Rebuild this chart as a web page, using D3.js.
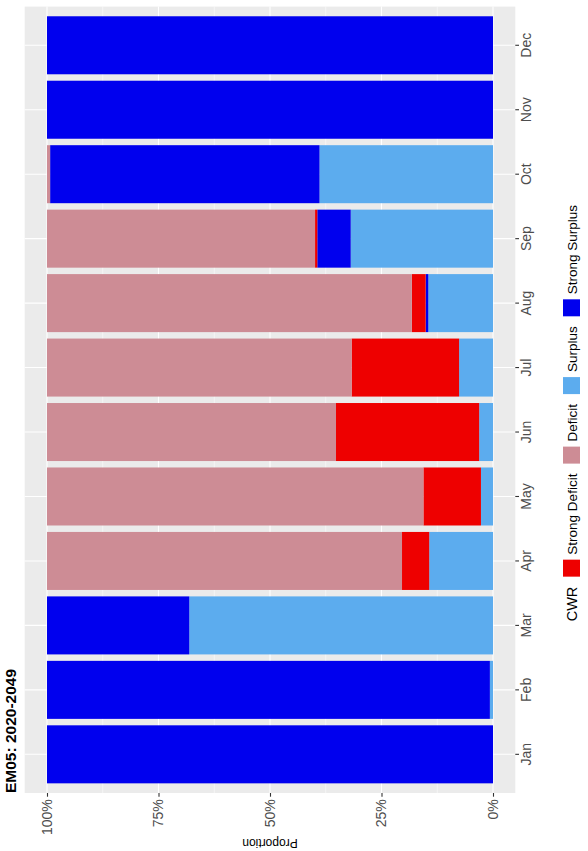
<!DOCTYPE html>
<html>
<head>
<meta charset="utf-8">
<script src="https://cdn.jsdelivr.net/npm/d3@7"></script>
<style>
  html, body { margin: 0; padding: 0; background: #fff; }
  svg { display: block; font-family: "Liberation Sans", Arial, sans-serif; }
</style>
</head>
<body>
<svg id="chart" width="588" height="851"></svg>
<script>
// ---- Data (proportions in %) ----
const months = ["Jan","Feb","Mar","Apr","May","Jun","Jul","Aug","Sep","Oct","Nov","Dec"];
const surplus       = [0, 0.7, 68.1, 14.3, 2.7, 3.1, 7.6, 14.5, 31.9, 38.9, 0, 0];
const strongSurplus = [100, 99.3, 31.9, 0, 0, 0, 0, 0.6, 7.5, 60.4, 100, 100];
const strongDeficit = [0, 0, 0, 6.1, 12.9, 32.1, 24.1, 3.1, 0.5, 0, 0, 0];
const deficit       = [0, 0, 0, 79.6, 84.4, 64.8, 68.3, 81.8, 60.1, 0.7, 0, 0];
const yTicks = [0, 0.25, 0.5, 0.75, 1];
const legendKeys = ["Strong Deficit", "Deficit", "Surplus", "Strong Surplus"];
const stackOrder = ["Surplus", "Strong Surplus", "Strong Deficit", "Deficit"];
const colors = {
  "Strong Deficit": "#EE0000",
  "Deficit": "#CD8C95",
  "Surplus": "#5CACEE",
  "Strong Surplus": "#0000EE"
};
const titleText = "EM05: 2020-2049";
const yTitle = "Proportion";
const legendTitle = "CWR";

const rows = months.map((m, i) => ({
  month: m,
  "Surplus": surplus[i] / 100,
  "Strong Surplus": strongSurplus[i] / 100,
  "Strong Deficit": strongDeficit[i] / 100,
  "Deficit": deficit[i] / 100
}));

// ---- Layout: draw in the original (landscape) frame, then rotate -90deg ----
const W = 851, H = 588;
const svg = d3.select("#chart");
svg.append("rect").attr("width", 588).attr("height", 851).attr("fill", "#fff");
const g = svg.append("g").attr("transform", `translate(0,${W}) rotate(-90)`);

const panel = { x0: 58, x1: 844.4, y0: 24.7, y1: 515.3 };

const x = d3.scaleBand().domain(months)
  .range([panel.x0, panel.x1]).paddingInner(0.1).paddingOuter(0.15);
const y = d3.scaleLinear().domain([0, 1]).range([493, 47]);

// panel background
g.append("rect").attr("x", panel.x0).attr("y", panel.y0)
  .attr("width", panel.x1 - panel.x0).attr("height", panel.y1 - panel.y0)
  .attr("fill", "#EBEBEB");

// minor gridlines
const minor = [0.125, 0.375, 0.625, 0.875];
g.append("g").selectAll("line").data(minor).join("line")
  .attr("x1", panel.x0).attr("x2", panel.x1)
  .attr("y1", d => y(d)).attr("y2", d => y(d))
  .attr("stroke", "#fff").attr("stroke-width", 0.55);
// major gridlines
g.append("g").selectAll("line").data(yTicks).join("line")
  .attr("x1", panel.x0).attr("x2", panel.x1)
  .attr("y1", d => y(d)).attr("y2", d => y(d))
  .attr("stroke", "#fff").attr("stroke-width", 1.1);
g.append("g").selectAll("line").data(months).join("line")
  .attr("x1", d => x(d) + x.bandwidth() / 2).attr("x2", d => x(d) + x.bandwidth() / 2)
  .attr("y1", panel.y0).attr("y2", panel.y1)
  .attr("stroke", "#fff").attr("stroke-width", 1.1);

// stacked bars
const series = d3.stack().keys(stackOrder)(rows);
g.append("g").selectAll("g").data(series).join("g")
  .attr("fill", d => colors[d.key])
  .selectAll("rect").data(d => d.filter(p => p[1] - p[0] > 0)).join("rect")
  .attr("x", d => x(d.data.month))
  .attr("width", x.bandwidth())
  .attr("y", d => y(d[1]))
  .attr("height", d => y(d[0]) - y(d[1]));

// axes
const yAxis = g.append("g").attr("transform", `translate(${panel.x0},0)`)
  .call(d3.axisLeft(y).tickValues(yTicks).tickFormat(d3.format(".0%")).tickSize(3.7).tickPadding(2.5));
const xAxis = g.append("g").attr("transform", `translate(0,${panel.y1})`)
  .call(d3.axisBottom(x).tickSize(3.7).tickPadding(2.5));
[yAxis, xAxis].forEach(a => {
  a.select(".domain").remove();
  a.selectAll(".tick line").attr("stroke", "#333").attr("stroke-width", 1.1);
  a.selectAll(".tick text").attr("fill", "#4D4D4D")
    .style("font-family", "'Liberation Sans', Arial, sans-serif").style("font-size", "14px");
});

// y axis title
g.append("text")
  .attr("transform", `translate(12,${(panel.y0 + panel.y1) / 2}) rotate(-90)`)
  .attr("text-anchor", "middle").attr("font-size", 12).attr("fill", "#000")
  .text(yTitle);

// plot title
g.append("text").attr("x", panel.x0).attr("y", 16)
  .attr("font-size", 15.5).attr("font-weight", "bold").attr("fill", "#000")
  .text(titleText);

// legend (bottom, horizontal)
const lg = g.append("g");
const legY = 563, keyS = 17;
let cx = 0;
const lt = lg.append("text").attr("x", cx).attr("y", legY + 13.5)
  .attr("font-size", 14.5).attr("fill", "#000").text(legendTitle);
cx += lt.node().getComputedTextLength() + 10;
legendKeys.forEach(k => {
  lg.append("rect").attr("x", cx).attr("y", legY).attr("width", keyS).attr("height", keyS)
    .attr("fill", colors[k]);
  cx += keyS + 5;
  const t = lg.append("text").attr("x", cx).attr("y", legY + 13.5)
    .attr("font-size", 13.5).attr("fill", "#000").text(k);
  cx += t.node().getComputedTextLength() + 10;
});
// place legend so it spans roughly the same extent as the reference
const legW = cx - 10;
lg.attr("transform", `translate(${646 - legW},0)`);
</script>
</body>
</html>
